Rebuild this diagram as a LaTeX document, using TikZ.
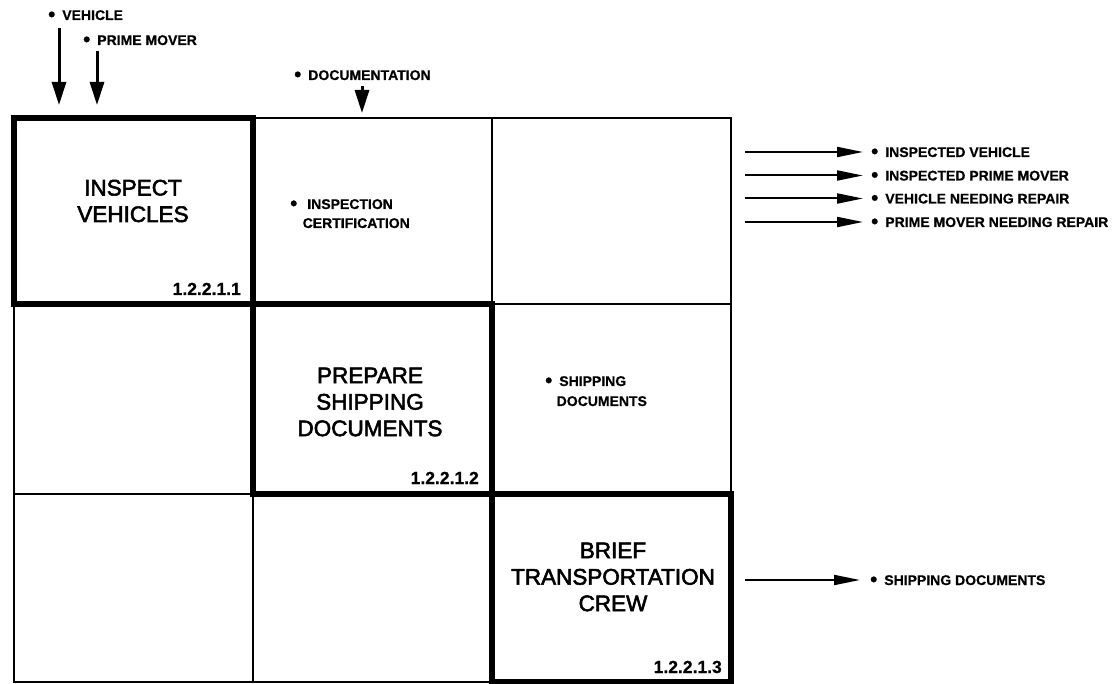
\documentclass[tikz,border=0pt]{standalone}
\usepackage{fontspec}
\setmainfont{Liberation Sans}
\newfontfamily\medfont{Liberation Sans}[FakeBold=2.5]
\newfontfamily\heavyfont{Liberation Sans Bold}[FakeBold=0.6]
\usetikzlibrary{arrows.meta}
\newcommand\lbul[1][7pt]{\raisebox{-0.08em}{\scalebox{1.45}{\textbullet}}\hspace{#1}}
\begin{document}
\begin{tikzpicture}[x=1pt,y=-1pt,
  cellbox/.style={draw, rectangle, line width=2.5pt, minimum width=239pt, inner sep=0pt, outer sep=0pt},
  procbox/.style={cellbox, line width=6.5pt},
  title/.style={align=center, inner sep=0pt, font=\medfont\fontsize{22.5}{26.5}\selectfont},
  num/.style={anchor=base east, inner sep=0pt, font=\heavyfont\fontsize{17.5}{20}\selectfont},
  lbl/.style={inner sep=0pt, font=\heavyfont\fontsize{14}{19}\selectfont},
  harr/.style={line width=2pt, -{Triangle[length=26pt,width=10pt]}},
  varr/.style={line width=3pt, -{Triangle[length=23pt,width=14pt]}}]
\useasboundingbox (0,0) rectangle (1119,684);
\fill[white] (0,0) rectangle (1119,684);
% grid cells (thin)
\node[cellbox, minimum height=186pt] (c12) at (372.5,211) {};
\node[cellbox, minimum height=186pt] (c13) at (611.5,211) {};
\node[cellbox, minimum height=190pt] (c21) at (133.5,399) {};
\node[cellbox, minimum height=190pt] (c23) at (611.5,399) {};
\node[cellbox, minimum height=188pt] (c31) at (133.5,588) {};
\node[cellbox, minimum height=188pt] (c32) at (372.5,588) {};
% process boxes (thick)
\node[procbox, minimum height=186pt] (c11) at (133.5,211) {};
\node[procbox, minimum height=190pt] (c22) at (372.5,399) {};
\node[procbox, minimum height=188pt] (c33) at (611.5,588) {};
% titles
\node[title] (t1) at (133,201) {INSPECT\\VEHICLES};
\node[title] (t2) at (370,402) {PREPARE\\SHIPPING\\DOCUMENTS};
\node[title] (t3) at (613,577) {BRIEF\\TRANSPORTATION\\CREW};
% numbers
\node[num] (n1) at (241,295) {1.2.2.1.1};
\node[num] (n2) at (479,484) {1.2.2.1.2};
\node[num] (n3) at (722,673) {1.2.2.1.3};
% labels inside cells
\node[lbl, anchor=north west, align=left] (ic) at (290,199) {\lbul[10pt]INSPECTION\\\hspace*{12.5pt}CERTIFICATION};
\node[lbl, anchor=north west, align=left, font=\heavyfont\fontsize{14}{20}\selectfont] (sd) at (545,376) {\lbul SHIPPING\\\hspace*{11.5pt}DOCUMENTS};
% input labels (top)
\node[lbl, anchor=base west] (i1) at (48,20) {\lbul VEHICLE};
\node[lbl, anchor=base west] (i2) at (83,45) {\lbul PRIME MOVER};
\node[lbl, anchor=base west] (i3) at (294,80) {\lbul DOCUMENTATION};
\coordinate (e1) at (59,105);
\coordinate (e2) at (97,105);
\coordinate (e3) at (362,113);
\draw[varr] (i1.south -| e1) ++(0,7) -- (e1);
\draw[varr] (i2.south -| e2) ++(0,5) -- (e2);
\draw[varr] (i3.south -| e3) ++(0,5) -- (e3);
% output labels (right)
\node[lbl, anchor=base west] (o1) at (871,157) {\lbul INSPECTED VEHICLE};
\node[lbl, anchor=base west] (o2) at (871,180.5) {\lbul INSPECTED PRIME MOVER};
\node[lbl, anchor=base west] (o3) at (871,203.5) {\lbul VEHICLE NEEDING REPAIR};
\node[lbl, anchor=base west] (o4) at (871,227) {\lbul PRIME MOVER NEEDING REPAIR};
\node[lbl, anchor=base west] (o5) at (870,585) {\lbul SHIPPING DOCUMENTS};
\coordinate (s1) at (745,152);
\coordinate (s2) at (745,175.5);
\coordinate (s3) at (745,198.5);
\coordinate (s4) at (745,222);
\coordinate (s5) at (745,580);
\draw[harr] (s1) -- ([xshift=-8pt]s1 -| o1.west);
\draw[harr] (s2) -- ([xshift=-8pt]s2 -| o2.west);
\draw[harr] (s3) -- ([xshift=-8pt]s3 -| o3.west);
\draw[harr] (s4) -- ([xshift=-8pt]s4 -| o4.west);
\draw[harr] (s5) -- ([xshift=-10pt]s5 -| o5.west);
\end{tikzpicture}
\end{document}
